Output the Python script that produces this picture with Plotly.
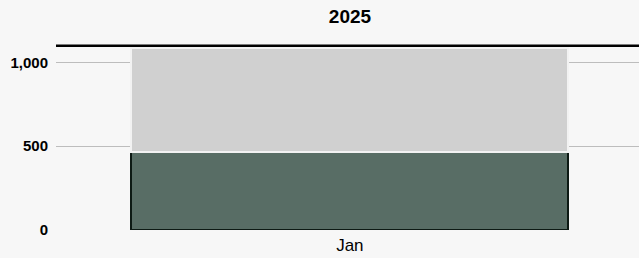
import plotly.graph_objects as go

categories = ["Jan"]
actual = [465]
remaining = [620]
target = [1100]
title_text = "2025"
y_tickvals = [0, 500, 1000]
y_ticktext = ["0", "500", "1,000"]

fig = go.Figure()
fig.add_trace(go.Bar(
    x=categories, y=actual, width=0.75,
    marker=dict(color="#586d65", line=dict(color="#0d1a14", width=2)),
    showlegend=False, hoverinfo="skip"))
fig.add_trace(go.Bar(
    x=categories, y=remaining, width=0.75,
    marker=dict(color="#d0d0d0", line=dict(color="#f2f2f2", width=2)),
    showlegend=False, hoverinfo="skip"))

fig.add_shape(type="line", xref="paper", yref="y", x0=0, x1=1,
              y0=target[0], y1=target[0],
              line=dict(color="#000000", width=2.5))

fig.update_layout(
    barmode="stack",
    width=639, height=258,
    margin=dict(l=56, r=0, t=44, b=28),
    paper_bgcolor="#f7f7f7",
    plot_bgcolor="#f7f7f7",
    font=dict(family="Liberation Sans, Arial, sans-serif", color="#000000"),
    title=dict(text="<b>" + title_text + "</b>", x=350/639, xanchor="center",
               y=1 - 16/258, yanchor="middle", font=dict(size=19)),
    xaxis=dict(range=[-0.504, 0.496], showgrid=False, zeroline=False,
               showline=False, ticks="", tickfont=dict(size=17),
               ticklabelstandoff=3),
    yaxis=dict(range=[0, 1110], tickvals=y_tickvals, ticktext=y_ticktext,
               showgrid=True, gridcolor="#bdbdbd", gridwidth=1,
               zeroline=False, showline=False, ticks="",
               ticklabelstandoff=7,
               tickfont=dict(size=15, weight="bold")),
)

fig.write_html("out.html", config={"displayModeBar": False},
               post_script="document.body.style.margin='0';")
